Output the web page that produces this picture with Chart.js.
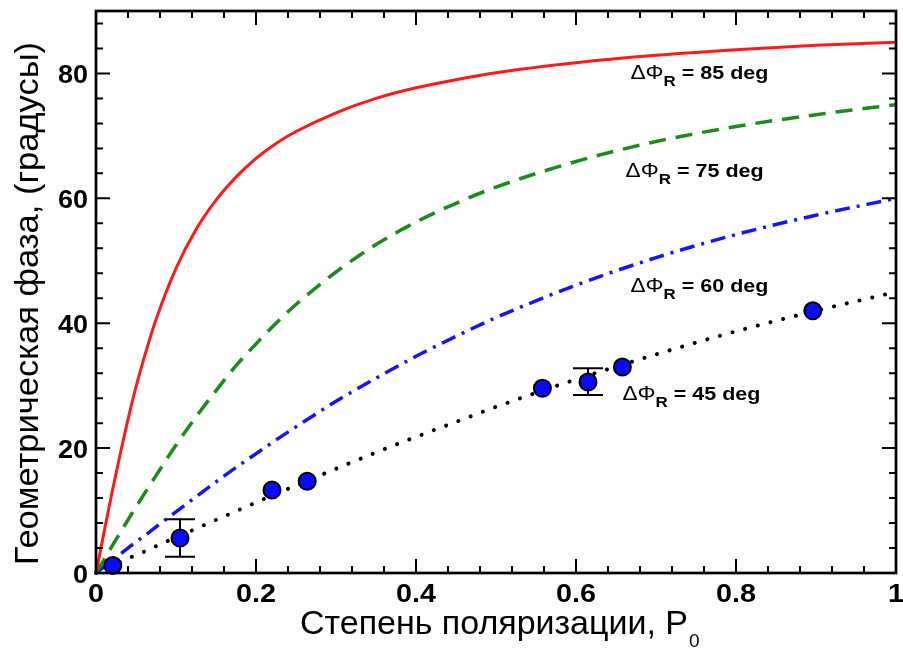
<!DOCTYPE html>
<html>
<head>
<meta charset="utf-8">
<script src="https://cdn.jsdelivr.net/npm/chart.js@4.4.1/dist/chart.umd.min.js"></script>
<style>
  html, body { margin: 0; padding: 0; background: #fff; }
  #wrap { width: 903px; height: 648px; }
</style>
</head>
<body>
<div id="wrap"><canvas id="c" width="903" height="648"></canvas></div>
<script>
// degree of polarization sampled along the curves
var pValues = [0, 0.01, 0.02, 0.03, 0.04, 0.05, 0.06, 0.075, 0.1, 0.125, 0.15, 0.175, 0.2, 0.225, 0.25, 0.3, 0.35, 0.4, 0.45, 0.5, 0.6, 0.7, 0.8, 0.9, 1.0];
// geometric phase (degrees)
var phase85 = [0, 6.5, 12.9, 18.9, 24.6, 29.8, 34.4, 40.6, 48.8, 55.0, 59.7, 63.4, 66.4, 68.8, 70.7, 73.7, 76.0, 77.7, 79.0, 80.1, 81.7, 82.9, 83.8, 84.5, 85.0];
var phase75 = [0, 2.1, 4.3, 6.4, 8.5, 10.6, 12.6, 15.6, 20.5, 25.0, 29.2, 33.2, 36.7, 40.0, 43.0, 48.2, 52.6, 56.2, 59.2, 61.8, 65.9, 69.1, 71.5, 73.4, 75.0];
var phase60 = [0, 1.0, 2.0, 3.0, 4.0, 5.0, 5.9, 7.4, 9.8, 12.2, 14.6, 16.9, 19.1, 21.3, 23.4, 27.5, 31.2, 34.7, 37.9, 40.9, 46.1, 50.5, 54.2, 57.3, 60.0];
var phase45 = [0, 0.6, 1.2, 1.7, 2.3, 2.9, 3.4, 4.3, 5.7, 7.1, 8.5, 9.9, 11.3, 12.7, 14.0, 16.7, 19.3, 21.8, 24.2, 26.6, 31.0, 35.0, 38.7, 42.0, 45.0];

// measured points
var measP     = [0.021, 0.105, 0.22, 0.264, 0.558, 0.615, 0.658, 0.896];
var measPhase = [1.2, 5.6, 13.3, 14.7, 29.6, 30.6, 33.0, 42.0];
var errLow    = [null, 2.6, null, null, null, 28.5, null, null];
var errHigh   = [null, 8.6, null, null, null, 32.8, null, null];

var curveLabels = ['85', '75', '60', '45'];
var xTickLabels = ['0', '0.2', '0.4', '0.6', '0.8', '1'];
var yTickLabels = ['0', '20', '40', '60', '80'];

function toXY(xs, ys) {
    return xs.map(function(x, i){ return {x: x, y: ys[i]}; });
}

var FONT = '"Liberation Sans", Arial, Helvetica, sans-serif';

// draws text squeezed/stretched to a given width
function fitText(ctx, text, x, y, width) {
    var w = ctx.measureText(text).width;
    ctx.save();
    ctx.translate(x, y);
    ctx.scale(width / w, 1);
    ctx.fillText(text, 0, 0);
    ctx.restore();
}

var overlay = {
    id: 'overlay',
    beforeDatasetsDraw: function(chart) {
        var ctx = chart.ctx, xs = chart.scales.x, ys = chart.scales.y;
        ctx.save();
        ctx.strokeStyle = '#000';
        ctx.lineWidth = 2;
        for (var i = 0; i < measP.length; i++) {
            if (errLow[i] === null) continue;
            var px = xs.getPixelForValue(measP[i]);
            var lo = ys.getPixelForValue(errLow[i]);
            var hi = ys.getPixelForValue(errHigh[i]);
            ctx.beginPath();
            ctx.moveTo(px, lo); ctx.lineTo(px, hi);
            ctx.moveTo(px - 15, lo); ctx.lineTo(px + 15, lo);
            ctx.moveTo(px - 15, hi); ctx.lineTo(px + 15, hi);
            ctx.stroke();
        }
        ctx.restore();
    },
    afterDraw: function(chart) {
        var ctx = chart.ctx, a = chart.chartArea;
        var xs = chart.scales.x, ys = chart.scales.y;
        ctx.save();
        ctx.strokeStyle = '#000';
        ctx.fillStyle = '#000';

        // ticks on all four sides, pointing in
        ctx.lineWidth = 2;
        ctx.beginPath();
        var i, v, p, len;
        for (i = 0; i <= 25; i++) {
            v = i * 0.04;
            p = xs.getPixelForValue(v);
            len = (i % 5 === 0) ? 14 : 7;
            ctx.moveTo(p, a.bottom); ctx.lineTo(p, a.bottom - len);
            ctx.moveTo(p, a.top); ctx.lineTo(p, a.top + len);
        }
        for (i = 0; i <= 22; i++) {
            v = i * 4;
            p = ys.getPixelForValue(v);
            len = (i % 5 === 0) ? 14 : 7;
            ctx.moveTo(a.left, p); ctx.lineTo(a.left + len, p);
            ctx.moveTo(a.right, p); ctx.lineTo(a.right - len, p);
        }
        ctx.stroke();

        // frame
        ctx.lineWidth = 2.7;
        ctx.strokeRect(a.left, a.top, a.right - a.left, a.bottom - a.top);

        // tick labels
        ctx.font = 'bold 25px ' + FONT;
        ctx.textBaseline = 'alphabetic';
        xTickLabels.forEach(function(t, k){
            var w = ctx.measureText(t).width * 1.15;
            var px = xs.getPixelForValue(k * 0.2);
            fitText(ctx, t, px - w / 2, a.bottom + 29, w);
        });
        yTickLabels.forEach(function(t, k){
            var w = ctx.measureText(t).width * 1.08;
            var py = ys.getPixelForValue(k * 20);
            fitText(ctx, t, a.left - 8 - w, py + 10, w);
        });

        // axis titles
        ctx.font = '33px ' + FONT;
        fitText(ctx, 'Степень поляризации, P', 300, 634, 388);
        ctx.font = '19px ' + FONT;
        ctx.fillText('0', 689, 647);

        ctx.save();
        ctx.translate(38, 565);
        ctx.rotate(-Math.PI / 2);
        ctx.font = '33px ' + FONT;
        fitText(ctx, 'Геометрическая фаза, (градусы)', 0, 0, 523);
        ctx.restore();

        // curve annotations, stretched to the width seen in the figure
        var spots = [[0.668, 79], [0.662, 177], [0.668, 292], [0.658, 400]];
        spots.forEach(function(s, k){
            var rest = ' = ' + curveLabels[k] + ' deg';
            ctx.font = '20px ' + FONT;
            var w1 = ctx.measureText('\u0394\u03A6').width;
            ctx.font = 'bold 15px ' + FONT;
            var w2 = ctx.measureText('R').width;
            ctx.font = 'bold 19px ' + FONT;
            var w3 = ctx.measureText(rest).width;
            var sx = 138 / (w1 + w2 + w3);
            ctx.save();
            ctx.translate(xs.getPixelForValue(s[0]), s[1]);
            ctx.scale(sx, 1);
            ctx.font = '20px ' + FONT;
            ctx.fillText('\u0394\u03A6', 0, 0);
            ctx.font = 'bold 15px ' + FONT;
            ctx.fillText('R', w1, 7);
            ctx.font = 'bold 19px ' + FONT;
            ctx.fillText(rest, w1 + w2, 0);
            ctx.restore();
        });
        ctx.restore();
    }
};

new Chart(document.getElementById('c'), {
    type: 'line',
    data: {
        datasets: [
            {
                data: toXY(measP, measPhase),
                order: 0,
                showLine: false,
                pointRadius: 8.5,
                pointBorderWidth: 2,
                pointBackgroundColor: '#0a0aff',
                pointBorderColor: '#000'
            },
            {
                data: toXY(pValues, phase85),
                order: 1,
                borderColor: '#ff1a1a',
                borderWidth: 3,
                pointRadius: 0,
                cubicInterpolationMode: 'monotone'
            },
            {
                data: toXY(pValues, phase75),
                order: 2,
                borderColor: '#1a8c1a',
                borderWidth: 3.5,
                borderDash: [17, 10],
                pointRadius: 0,
                cubicInterpolationMode: 'monotone'
            },
            {
                data: toXY(pValues, phase60),
                order: 3,
                borderColor: '#1414ff',
                borderWidth: 3.5,
                borderDash: [15, 7, 3, 7],
                pointRadius: 0,
                cubicInterpolationMode: 'monotone'
            },
            {
                data: toXY(pValues, phase45),
                order: 4,
                borderColor: '#000',
                borderWidth: 4,
                borderDash: [0.1, 13],
                borderCapStyle: 'round',
                pointRadius: 0,
                cubicInterpolationMode: 'monotone'
            }
        ]
    },
    options: {
        responsive: false,
        animation: false,
        clip: false,
        layout: { autoPadding: false, padding: { left: 96, right: 7, top: 11, bottom: 75 } },
        plugins: {
            legend: { display: false },
            tooltip: { enabled: false }
        },
        scales: {
            x: {
                type: 'linear', min: 0, max: 1,
                grid: { display: false, drawTicks: false },
                border: { display: false },
                ticks: { display: false }
            },
            y: {
                type: 'linear', min: 0, max: 90,
                grid: { display: false, drawTicks: false },
                border: { display: false },
                ticks: { display: false }
            }
        }
    },
    plugins: [overlay]
});
</script>
</body>
</html>
